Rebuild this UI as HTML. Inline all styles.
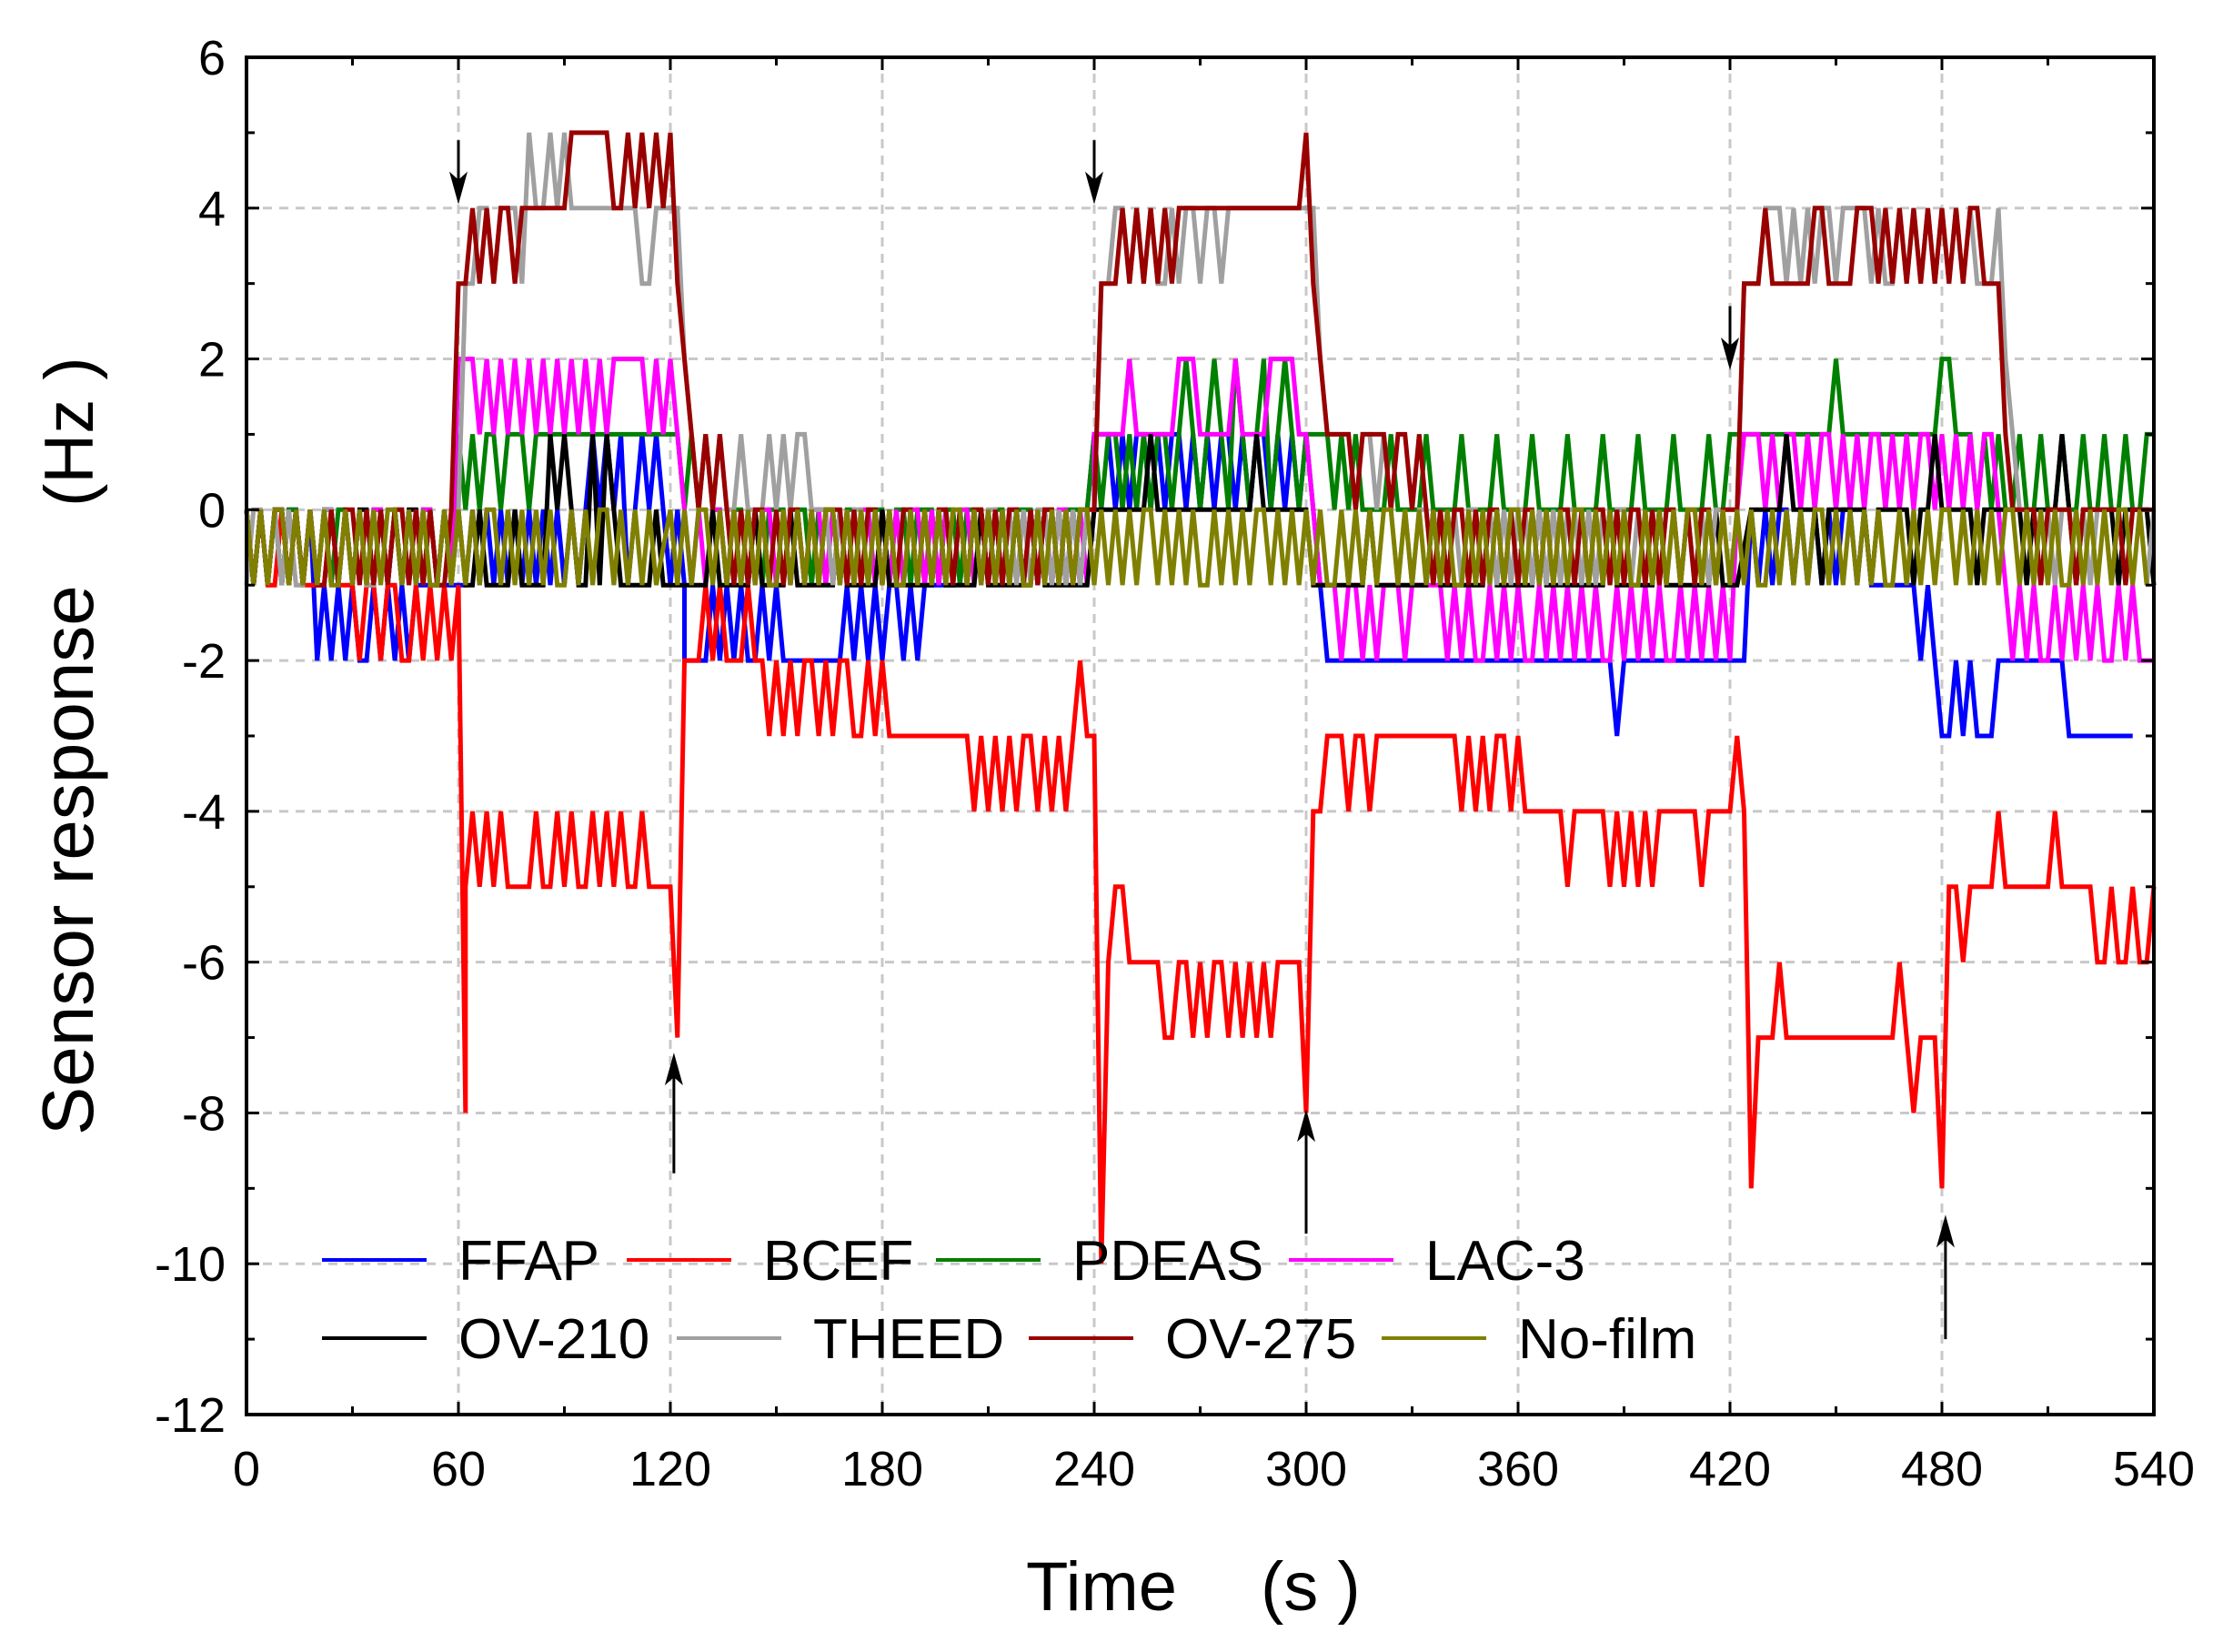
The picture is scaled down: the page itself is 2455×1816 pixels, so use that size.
<!DOCTYPE html>
<html><head><meta charset="utf-8">
<style>
html,body{margin:0;padding:0;background:#fff;}
svg{display:block;font-family:"Liberation Sans",Arial,sans-serif;}
</style></head>
<body>
<svg id="chart" width="2455" height="1816" viewBox="0 0 2455 1816" xmlns="http://www.w3.org/2000/svg">
<rect width="2455" height="1816" fill="#fff"/>
<g id="grid"></g>
<g id="series"></g>
<g id="ticks"></g>
<rect x="271" y="63" width="2097" height="1492" fill="none" stroke="#000" stroke-width="4"/>
<g id="arrows"></g>
<g id="legend"></g>
<text x="1128" y="1770" font-size="76" text-anchor="start">Time</text>
<text x="1386" y="1770" font-size="76">(s )</text>
<text transform="translate(102,1248) rotate(-90)" font-size="80">Sensor response</text>
<text transform="translate(102,557) rotate(-90)" font-size="76">(Hz )</text>
</svg>
<script>
const xTicks=[0,60,120,180,240,300,360,420,480,540];
const yTicks=[6,4,2,0,-2,-4,-6,-8,-10,-12];
const seriesNames=["FFAP","BCEF","PDEAS","LAC-3","OV-210","THEED","OV-275","No-film"];
const seriesColors=["#0000ff","#ff0000","#008000","#ff00ff","#000000","#a0a0a0","#990000","#808000"];
// chunks: [startTime, codes]; each code = one 2 s sample; K=0, L=1.., J=-1.., A=-10
const ffap=[[0,"KJKJKJKKJKIJIJIJIIJIJIJIJJJJJJJ"],[62,"JKJKJKJKJKJKJKJKJKLKLKLJKLKLKJKJ"],[124,"IIIIJIJIJIIJIJIIIIIIIIIJIJIJIJJIJIJJJJ"],[200,"JKJKJKJKJKJKJKJKJKJK"],[240,"LLLKLKLLKLKLLKLKLKLLKLKLLKLKLKLKJ"],[306,"IIIIIIIIIIIIIIIIIIIIIIIIIIIIIIIIIIIIIIIIIHIIIIIIIIIII"],[412,"IIIIIIIKJKJKKJKJKJKJKKJKJJJJJJJIJIHHIHIHHHIIIIIIIIIIHHHHHHHHHH"]];
const bcef=[[0,"KJKJJKJKJJJJKJJJIJJIJJIIJIJIJI"],[60,"JC"],[62,"FGFGFGFFFFGFFGFGFFGFGFGFFGFFF"],[120,"FDI"],[126,"IIJIJIIIJIIHIHIHIIHIHII"],[172,"HHIHIHHHHHHHHHHHH"],[206,"GHGHGHGHHGHGHGHIHH"],[242,"AEFFEEEEE"],[260,"DDEEDEDEEDEDEDEDEEEE"],[300,"CGG"],[306,"HHHGHHGHHHHHHHHHHHHGHGHGHHGHGGG"],[368,"GGGFGGGGGFGFGFGFGGGGGGFGGGG"],[422,"HGBD"],[430,"DDEDDDDDDDDDDDDDDDDEDCDDDB"],[482,"FFEFFFFGFFFFFFFGFFFF"],[522,"FEEFEEFEEF"]];
const pdeas=[[0,"KJKJKJKKJKJKJKKJKJKKJKJKJKKJKJ"],[60,"LKLKLLKLLLKLLLLLLLLLLLLLLLLLLLLLKLKLK"],[134,"KJKKJKJKKKJKKJKKKJKKJKKKJKKJKKKJKKJKKKJKKJKKKJKKJK"],[236,"KKLKLLKLKLKLLKLMLKLMLKMLKLMKLMLKLLLLKLKLK"],[318,"KKKLKKKKLKKKKLKKKKLKKKKLKKKKLKKKKLKKKKLKKKKLKKKKLK"],[418,"KLLLLLLLLLLLLLLLMLLLLLLLLLLLLLLMMLLLKLKLKKLKKLKKLKKLKKLKKLKKLL"]];
const lac3=[[0,"KJKJKKJKJKJKKJKJKJKKJKJKJKKJKJ"],[60,"MMMLMLMLMLMLMLMLMLMLMLMMMMMLMLMLK"],[126,"JKJKKJKJKJKKJKJKJKKJKJKJKKJKJKJKKJKJKJKKJKJKJKKJKJKJKKJKJK"],[240,"LLLLLMLLLLLLMMMLLLLLMLLLLMMMMLLKJ"],[306,"JJIJJIJIJJJIJJJJJIJIJIIJIJIJIIJIJIJIJIJIIJIJIJIJIIJIJIJIJI"],[422,"KLLLKLKLLKLKLLKLKLKLLKLKLKLLKLKLKLKLLKJ"],[500,"IJIJIIJIJIJIJIIJIJIII"]];
const ov210=[[0,"KJKJKKJKJKJKKJKJKKJKJKJKKJKJKJK"],[62,"JJKJJJJKJJJJLKLKJJLJLKJJJJJKJJJ"],[124,"JJJJKJJJJJKJJJJKJJJJJJKJJJJJKJJJJJJJKJJJJJKJJJJJJJKJJJ"],[232,"JJJJKKKKKKKKLKKKKKKKKKKKKKKLKKKKKKKJJ"],[306,"JJJJJJKJJJJJJJJKJJJJJJJKJJJJJJKJJJJJJJJJKJJJJJJKJJJJJJJKJJJ"],[426,"KKKKKLKKKKJKKKKKKJKKKKKJKKLKKKKKJKKKKKKJKKKKLKJKKKKKJKKKKJ"]];
const theed=[[0,"JKKJKJKJJKJKKJKJKJJKJKKJKJKJKJ"],[60,"KNNOONOOONPOOPOPOOOOOOOOOONNOOOO"],[124,"MLKLKLKKLKKKLKLKLLKK"],[164,"KJKJKKJKJKJKKJKJKKJKJKJKKJKJKJKKJKJKJKK"],[240,"KNNOONONONNONOONOONOOOOOOOOOOOOOMLLLLKLLKL"],[324,"KJKJKKJKJKJKKJKJKJKKJKJKJKKJKJKJKKJKJKJKKJKJKJK"],[420,"KKNNNOOONONONOONOOOONONNONONONONONONNNOMLKK"],[506,"KJKJKKJKJKKJKJKKJK"]];
const ov275=[[0,"KJKJKKJKJKJJKJKKJKJKJKKJKJKJJK"],[60,"NNONONOONOOOOOOOPPPPPPOOPOPOPOP"],[122,"NMLKLKLK"],[138,"JKJKKJKJKKJKJKKKJKJKKJKJKKJKJKKJKJKKJKJKKJKJKKJKJKK"],[240,"KNNNONONONONOOOOOOOOOOOOOOOOOOPNML"],[308,"LLLKLLLLKLLKLK"],[336,"JKJKKJKJKKJKJKKJKJKKJKJKKJKJKKJKJKKJKJKKJK"],[420,"KKNNNONNNNNNOONNNNOOONONONONONONONOONNNLKK"],[502,"KKKJKKKKJKKKKKKJKKKK"]];
const nofilm=[[0,"KJKJKKJKJKJKJJKJKJKJKKJKJKJJKJKJKJKKJKJKJKJKJJKJKJKKJKJKJKJ"],[120,"KJKJKKJKJKJKJKJJKJKJKJKKJKJKJKJKJJKJKJKJKKJKJKJKJKJJKJKJKJKKJ"],[242,"KJKJKJKKJKJKJKJJKJKJKJKKJKJKJKJKJJKJKJKJKKJKJKJKJKJJKJKJKJKKJK"],[366,"JKJKJKKJKJKJKJJKJKJKJKKJKJKJKJKJJKJKJKJKKJKJKJKJKJJKJKJKJKKJKJ"],[490,"KJKJKKJKJKJKJJKJKJKJKKJKJ"]];
const allSeries=[ffap,bcef,pdeas,lac3,ov210,theed,ov275,nofilm];

const L=271,R=2368,T=63,B=1555;
const xs=t=>L+(t-0)*(R-L)/540;
const ys=v=>T+(6-v)*(B-T)/18;
const NS="http://www.w3.org/2000/svg";
function mk(tag,attrs,parent){const e=document.createElementNS(NS,tag);for(const k in attrs)e.setAttribute(k,attrs[k]);parent.appendChild(e);return e;}
const grid=document.getElementById('grid'),ticks=document.getElementById('ticks');
xTicks.forEach((t,i)=>{
  if(i>0&&i<xTicks.length-1){const g=mk('line',{x1:xs(t),x2:xs(t),y1:T,y2:B,stroke:'#c8c8c8','stroke-width':3,'stroke-dasharray':'10,8'},grid);
  
  }
  const lb=mk('text',{x:xs(t),y:1633,'font-size':54,'text-anchor':'middle'},ticks);lb.textContent=t;
  
  
});
yTicks.forEach((v,i)=>{
  if(i>0&&i<yTicks.length-1){const g=mk('line',{x1:L,x2:R,y1:ys(v),y2:ys(v),stroke:'#c8c8c8','stroke-width':3,'stroke-dasharray':'10,8'},grid);
  
  }
  const lb=mk('text',{x:248,y:ys(v)+19,'font-size':54,'text-anchor':'end'},ticks);lb.textContent=v;
  
  
});
for(let t=0;t<=540;t+=30){const len=(t%60===0)?14:9;
  mk('line',{x1:xs(t),x2:xs(t),y1:B,y2:B-len,stroke:'#000','stroke-width':3},ticks);
  mk('line',{x1:xs(t),x2:xs(t),y1:T,y2:T+len,stroke:'#000','stroke-width':3},ticks);}
for(let v=-12;v<=6;v+=1){const len=(v%2===0)?14:9;
  mk('line',{x1:L,x2:L+len,y1:ys(v),y2:ys(v),stroke:'#000','stroke-width':3},ticks);
  mk('line',{x1:R,x2:R-len,y1:ys(v),y2:ys(v),stroke:'#000','stroke-width':3},ticks);}

const sg=document.getElementById('series');
allSeries.forEach((chunks,si)=>{
  const pts=[];
  chunks.forEach(([t0,codes])=>{for(let i=0;i<codes.length;i++){const t=t0+2*i;if(t>540)break;const v=codes.charCodeAt(i)-75;pts.push(xs(t).toFixed(1)+','+ys(v).toFixed(1));}});
  const p=mk('polyline',{points:pts.join(' '),fill:'none',stroke:seriesColors[si],'stroke-width':5,'stroke-linejoin':'miter'},sg);
  
  
});

// legend
const lg=document.getElementById('legend');
const legPos=[[354,1385],[689,1385],[1029,1385],[1417,1385],[354,1471],[744,1471],[1131,1471],[1519,1471]];
seriesNames.forEach((n,i)=>{
  const [x,y]=legPos[i];
  const ln=mk('line',{x1:x,x2:x+115,y1:y,y2:y,stroke:seriesColors[i],'stroke-width':4},lg);
  
  
  const tx=mk('text',{x:x+150,y:y+22,'font-size':62},lg);tx.textContent=n;
  
  
});

// arrows
const ag=document.getElementById('arrows');
const arrowDefs=[[60,4.9,4.05,'down'],[240,4.9,4.05,'down'],[420,2.7,1.85,'down'],[121,-8.8,-7.2,'up'],[300,-9.6,-7.95,'up'],[481,-11.0,-9.35,'up']];
arrowDefs.forEach(([t,v1,v2,d])=>{
  const x=xs(t),y1=ys(v1),y2=ys(v2);
  const sh=mk('line',{x1:x,x2:x,y1:y1,y2:y2+(d==='down'?-20:20),stroke:'#000','stroke-width':3},ag);
  
  
  const s=d==='down'?-1:1;
  const hd=mk('polygon',{points:`${x},${y2} ${x-10},${y2+s*36} ${x},${y2+s*27} ${x+10},${y2+s*36}`,fill:'#000'},ag);
  
  
});
</script>
</body></html>
